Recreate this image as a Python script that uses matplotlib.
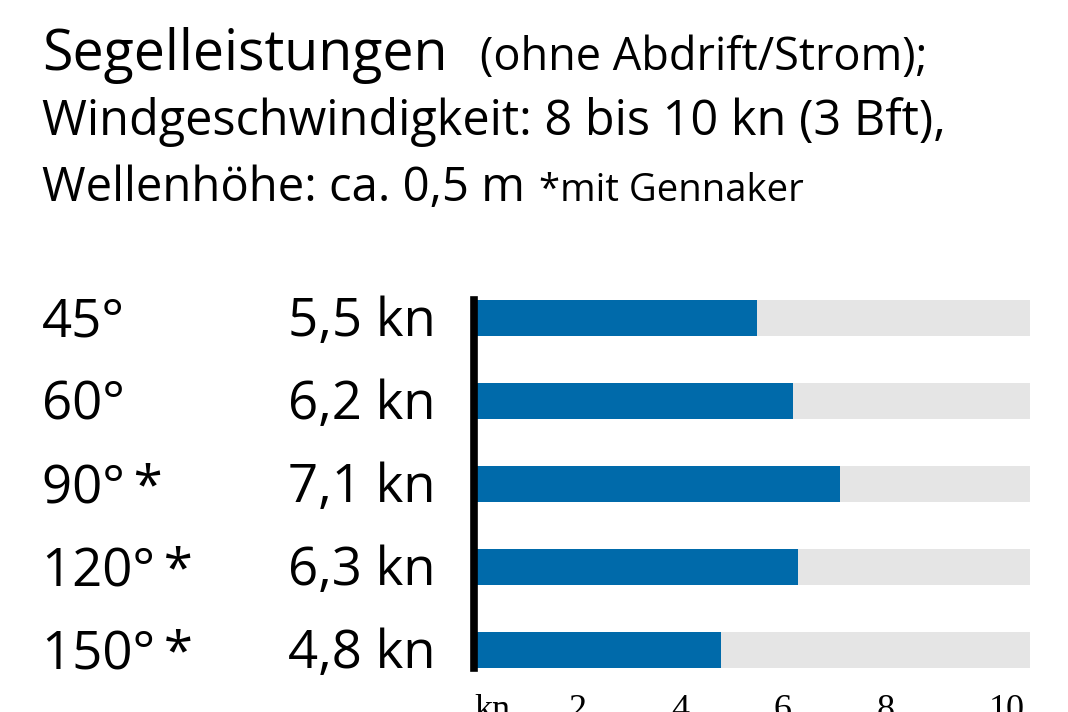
import matplotlib
matplotlib.use("Agg")
import matplotlib.pyplot as plt
import matplotlib.transforms as mtransforms

# ---- data ----
angles = ["45°", "60°", "90°", "120°", "150°"]
gennaker = [False, False, True, True, True]
speeds = [5.5, 6.2, 7.1, 6.3, 4.8]
tick_values = [0, 2, 4, 6, 8, 10]
tick_labels = ["kn", "2", "4", "6", "8", "10"]
axis_max = 10.8

title_main = "Segelleistungen"
title_sub = "(ohne Abdrift/Strom);"
line2 = "Windgeschwindigkeit: 8 bis 10 kn (3 Bft),"
line3 = "Wellenhöhe: ca. 0,5 m"
line3_note = "*mit Gennaker"

BLUE = "#006aaa"
GREY = "#e5e5e5"
SANS = ["Open Sans", "DejaVu Sans"]
SERIF = ["Liberation Serif", "DejaVu Serif"]

W, H = 1068, 712
fig = plt.figure(figsize=(W / 100, H / 100), dpi=100)
fig.patch.set_facecolor("white")

def fy(py):
    return 1 - py / H

def fx(px):
    return px / W

# header text
t = fig.text(fx(42), fy(70), title_main, family=SANS, fontsize=40, va="baseline", ha="left")
fig.canvas.draw()
bb = t.get_window_extent()
fig.text(bb.x1 / W + fx(32), fy(70), title_sub, family=SANS, fontsize=32.5, va="baseline", ha="left")
fig.text(fx(42), fy(135), line2, family=SANS, fontsize=35, va="baseline", ha="left")
t3 = fig.text(fx(42), fy(201), line3, family=SANS, fontsize=34, va="baseline", ha="left")
fig.canvas.draw()
bb3 = t3.get_window_extent()
fig.text(bb3.x1 / W + fx(14), fy(201), line3_note, family=SANS, fontsize=27.5, va="baseline", ha="left")

# axes
bar_h = 0.435
ax_left, ax_right = 474, 1030
ax_top, ax_bot = 300, 668
ax = fig.add_axes([fx(ax_left), fy(ax_bot), (ax_right - ax_left) / W, (ax_bot - ax_top) / H])
n = len(speeds)
ys = list(range(n))
ax.barh(ys, [axis_max] * n, height=bar_h, color=GREY, zorder=1)
ax.barh(ys, speeds, height=bar_h, color=BLUE, zorder=2)
ax.set_xlim(0, axis_max)
ax.set_ylim(n - 1 + bar_h / 2, -bar_h / 2)
for s in ax.spines.values():
    s.set_visible(False)
ax.set_yticks([])
ax.set_xticks(tick_values)
ax.set_xticklabels(tick_labels, family=SERIF, fontsize=26)
ax.tick_params(axis="x", length=0, pad=19)
xt = ax.get_xticklabels()
xt[0].set_ha("left")
xt[-1].set_ha("left")
ax.axvline(0, color="black", lw=5.5, zorder=5, clip_on=False)

# row labels
trans_left = mtransforms.blended_transform_factory(fig.transFigure, ax.transData)
for i, (a, g, v) in enumerate(zip(angles, gennaker, speeds)):
    lab = a + ("\u2009*" if g else "")
    ax.text(fx(42), i + 0.22, lab, transform=trans_left, family=SANS, fontsize=38,
            ha="left", va="baseline")
    ax.text(fx(436), i + 0.22, f"{v:.1f}".replace(".", ",") + " kn", transform=trans_left,
            family=SANS, fontsize=38, ha="right", va="baseline")

fig.savefig("out.png", dpi=100)
